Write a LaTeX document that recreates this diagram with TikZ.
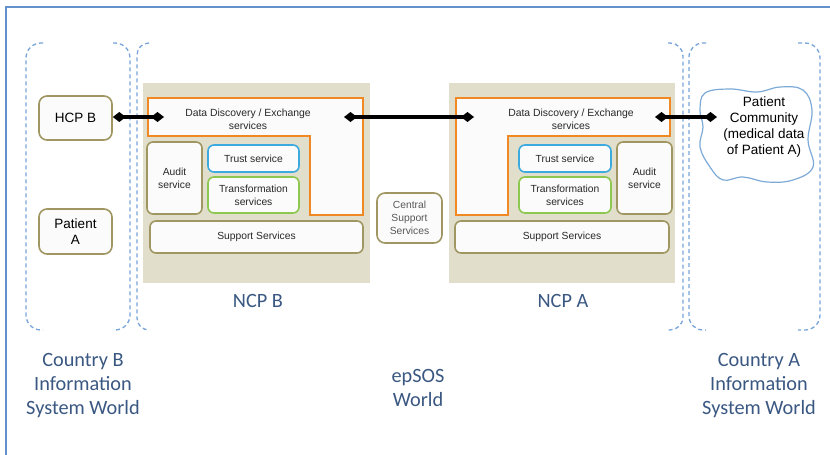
\documentclass[tikz,border=0pt]{standalone}
\usepackage{fontspec}
\setmainfont{Liberation Sans}
\newfontfamily\labfont{Carlito}
\usetikzlibrary{arrows.meta}
\definecolor{frameblue}{RGB}{98,145,205}
\definecolor{dashblue}{RGB}{120,165,218}
\definecolor{labblue}{RGB}{58,88,130}
\definecolor{olive}{RGB}{160,150,98}
\definecolor{ncpgray}{RGB}{225,222,204}
\definecolor{orangeL}{RGB}{240,136,36}
\definecolor{trustblue}{RGB}{60,170,222}
\definecolor{transgreen}{RGB}{140,200,80}
\definecolor{cloudblue}{RGB}{125,170,215}
\definecolor{boxfill}{RGB}{251,251,251}
\definecolor{txtgray}{RGB}{40,40,40}
\tikzset{
  svcbox/.style={draw=olive, line width=1.6pt, rounded corners=6pt, fill=boxfill,
    align=center, inner sep=1pt, text=txtgray, font=\fontsize{10.3}{12.8}\selectfont},
  trustbox/.style={svcbox, draw=trustblue},
  transbox/.style={svcbox, draw=transgreen},
  bigbox/.style={svcbox, rounded corners=8pt, text=black, font=\fontsize{13.5}{16}\selectfont},
  ncparea/.style={fill=ncpgray, draw=none},
  orangeshape/.style={draw=orangeL, line width=2pt, fill=boxfill},
  bracketline/.style={draw=dashblue, line width=1.3pt, dash pattern=on 4pt off 3pt, rounded corners=15pt},
  worldlabel/.style={text=labblue, align=center, font=\labfont\fontsize{20.3}{24}\selectfont},
  conn/.style={line width=3.2pt, {Diamond[length=13pt,width=10pt]}-{Diamond[length=13pt,width=10pt]}},
  ddtext/.style={align=center, text=txtgray, font=\fontsize{10.4}{13}\selectfont},
}
\begin{document}
\begin{tikzpicture}[x=1pt,y=-1pt]
\useasboundingbox (0,0) rectangle (830,455);
\fill[white] (0,0) rectangle (830,455);
% outer frame
\draw[frameblue, line width=1.5pt] (6,455) -- (6,7) -- (830,7);

% dashed brackets
\draw[bracketline] (43,43) -- (26,43) -- (26,330) -- (43,330);
\draw[bracketline] (113,43) -- (130,43) -- (130,330) -- (113,330);
\draw[bracketline, rounded corners=12pt] (149,43) -- (137,43) -- (137,330) -- (149,330);
\draw[bracketline, rounded corners=13pt] (668,43) -- (683,43) -- (683,330) -- (668,330);
\draw[bracketline, rounded corners=14pt] (706,43) -- (689,43) -- (689,330) -- (706,330);
\draw[bracketline] (798,43) -- (820,43) -- (820,330) -- (798,330);

% NCP areas
\fill[ncparea] (143,83) rectangle (370,283);
\fill[ncparea] (449,83) rectangle (675,283);

% orange L shapes
\draw[orangeshape] (148,98) -- (363,98) -- (363,215) -- (310,215) -- (310,136) -- (148,136) -- cycle;
\draw[orangeshape] (456,98) -- (670,98) -- (670,136) -- (508,136) -- (508,215) -- (456,215) -- cycle;
\node[ddtext] (ddB) at (248,119.5) {Data Discovery / Exchange\\services};
\node[ddtext] (ddA) at (571,119.5) {Data Discovery / Exchange\\services};

% NCP B services
\node[svcbox, minimum width=55pt, minimum height=72pt] (auditB) at (174.5,178) {Audit\\service};
\node[trustbox, minimum width=91pt, minimum height=27pt] (trustB) at (253.5,158.5) {Trust service};
\node[transbox, minimum width=91pt, minimum height=36pt] (transB) at (253.5,195) {Transformation\\services};
\node[svcbox, minimum width=213pt, minimum height=32pt] (suppB) at (256.5,237) {Support Services};

% NCP A services
\node[svcbox, minimum width=55pt, minimum height=72pt] (auditA) at (644.5,178) {Audit\\service};
\node[trustbox, minimum width=92pt, minimum height=27pt] (trustA) at (565,158.5) {Trust service};
\node[transbox, minimum width=92pt, minimum height=36pt] (transA) at (565,195) {Transformation\\services};
\node[svcbox, minimum width=214pt, minimum height=32pt] (suppA) at (562,237) {Support Services};

% central
\node[svcbox, rounded corners=8pt, minimum width=65pt, minimum height=50pt, text=black!65] (central) at (409.5,218) {Central\\Support\\Services};

% country B nodes
\node[bigbox, minimum width=73pt, minimum height=44pt] (hcpb) at (75.5,118) {HCP B};
\node[bigbox, minimum width=73pt, minimum height=45pt] (patA) at (75.5,231.5) {Patient\\A};

% cloud
\draw[cloudblue, line width=1.2pt, fill=white] plot[smooth cycle, tension=0.65] coordinates {
  (705,93) (730,89) (757,92) (780,87) (803,90) (812,110) (808,140) (813,167)
  (793,180) (767,182) (743,177) (723,180) (710,167) (700,147) (703,127) (700,110)};
\node[align=center, font=\fontsize{13.5}{16}\selectfont] (pc) at (764,127) {Patient\\Community\\(medical data\\of Patient A)};

% connector end points
\coordinate (ddBin) at (164,117);
\coordinate (ddBout) at (344,117);
\coordinate (ddAin) at (474,117);
\coordinate (ddAout) at (655,117);
\coordinate (pcin) at (717,117);
\draw[conn] (hcpb.east |- ddBin) -- (ddBin);
\draw[conn] (ddBout) -- (ddAin);
\draw[conn] (ddAout) -- (pcin);

% labels
\node[worldlabel] (ncpBlab) at (258,301) {NCP B};
\node[worldlabel] (ncpAlab) at (563,301) {NCP A};
\node[worldlabel] (cbw) at (83,386) {Country B\\Information\\System World};
\node[worldlabel] (epw) at (418,388) {epSOS\\World};
\node[worldlabel] (caw) at (759,386) {Country A\\Information\\System World};
\end{tikzpicture}
\end{document}
